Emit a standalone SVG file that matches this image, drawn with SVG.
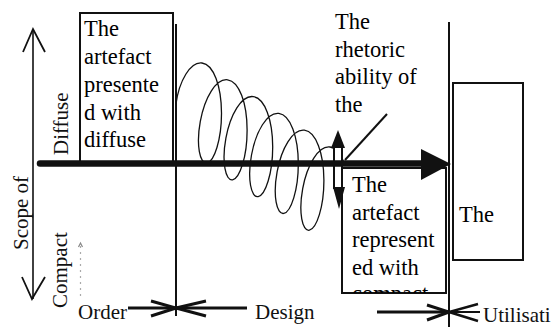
<svg xmlns="http://www.w3.org/2000/svg" width="556" height="327" viewBox="0 0 556 327">
<style>
.bt{font-family:"Liberation Serif","Times New Roman",serif;font-size:22.5px;fill:#000}
.lb{font-family:"Liberation Serif","Times New Roman",serif;font-size:21px;fill:#111}
.ln{stroke:#111;fill:none}
.box{stroke:#111;stroke-width:2;fill:#fff}
</style>
<defs>
<clipPath id="clipCompact"><rect x="343" y="169" width="102" height="124"/></clipPath>
</defs>
<rect width="556" height="327" fill="#fff"/>

<g id="scope-axis">
<line class="ln" x1="33" y1="29" x2="33" y2="299" stroke-width="1.6"/>
<polyline class="ln" points="23,52 33,29 45,52" stroke-width="1.8"/>
<polyline class="ln" points="22,277 32,299 45,277" stroke-width="1.8"/>
<text class="lb" font-size="22" transform="translate(28,250) rotate(-90)">Scope of</text>
<text class="lb" transform="translate(68,155) rotate(-90)">Diffuse</text>
<text class="lb" transform="translate(67,308) rotate(-90)">Compact</text>
<line x1="80.5" y1="246" x2="80.5" y2="296" stroke="#aaa" stroke-width="1.2" stroke-dasharray="2,4"/>
<polyline points="78.5,247 80.5,243 82.5,247" fill="none" stroke="#888" stroke-width="1.2"/>
</g>

<g id="phase-lines">
<line class="ln" x1="176" y1="24" x2="176" y2="316" stroke-width="2"/>
<line class="ln" x1="449" y1="22" x2="449" y2="327" stroke-width="2"/>
</g>

<g id="box-diffuse">
<rect class="box" x="80" y="13" width="93" height="150"/>
<text class="bt" x="84" y="36">The</text>
<text class="bt" x="84" y="64">artefact</text>
<text class="bt" x="84" y="92">presente</text>
<text class="bt" x="84" y="120">d with</text>
<text class="bt" x="84" y="147">diffuse</text>
</g>

<g id="box-compact">
<rect class="box" x="342" y="168" width="104" height="125"/>
<text class="bt" x="352" y="192">The</text>
<text class="bt" x="352" y="220">artefact</text>
<text class="bt" x="352" y="247">represent</text>
<text class="bt" x="352" y="275">ed with</text>
<text class="bt" x="352" y="300.5" clip-path="url(#clipCompact)">compact</text>
</g>

<g id="box-utilisation">
<rect class="box" x="453" y="83" width="70" height="177"/>
<text class="bt" x="459" y="222">The</text>
</g>

<g id="rhetoric-label">
<text class="bt" x="335" y="29">The</text>
<text class="bt" x="335" y="57">rhetoric</text>
<text class="bt" x="335" y="84">ability of</text>
<text class="bt" x="335" y="112">the</text>
</g>

<g id="connectors">
<path id="spiral" class="ln" stroke-width="1.3" d="M176 104 C179.08 80.88 190.41 61.53 202 63 C213.59 64.47 221.4 86.34 221.5 113 C221.6 139.66 214.11 161.53 207 163 C199.89 164.47 195.92 145.12 200.3 121.4 C204.68 97.68 216.01 78.33 227.6 79.8 C239.19 81.27 247 103.14 247.1 129.8 C247.2 156.46 239.71 178.33 232.6 179.8 C225.49 181.27 221.52 161.92 225.9 138.2 C230.28 114.48 241.61 95.13 253.2 96.6 C264.79 98.07 272.6 119.94 272.7 146.6 C272.8 173.26 265.31 195.13 258.2 196.6 C251.09 198.07 247.12 178.72 251.5 155 C255.88 131.28 267.21 111.93 278.8 113.4 C290.39 114.87 298.2 136.74 298.3 163.4 C298.4 190.06 290.91 211.93 283.8 213.4 C276.69 214.87 272.72 195.52 277.1 171.8 C281.48 148.08 292.81 128.73 304.4 130.2 C315.99 131.67 323.8 153.54 323.9 180.2 C324 206.86 316.51 228.73 309.4 230.2 C302.29 231.67 298.32 212.32 302.7 188.6 C307.08 164.88 318.41 145.53 330 147 C335.6 147.7 340.5 153.5 344 163"/>
<g id="double-arrow">
<rect x="334" y="147" width="8" height="41" fill="#fff" stroke="#111" stroke-width="2"/>
<polygon points="338,130 345,148 331,148" fill="#111"/>
<polygon points="333,187 345,187 339,209" fill="#111"/>
</g>
<line class="ln" x1="40" y1="163.5" x2="425" y2="163.5" stroke-width="6.5" stroke-linecap="round"/>
<polygon points="421,149 451,164 421,180" fill="#111"/>
<line class="ln" x1="387" y1="114" x2="345" y2="160" stroke-width="2"/>
<g id="arrow-order">
<line class="ln" x1="128" y1="308" x2="176" y2="308" stroke-width="3"/>
<polyline class="ln" points="151,301 176,308 151,316" stroke-width="3"/>
</g>
<g id="arrow-design">
<line class="ln" x1="247" y1="308" x2="176" y2="308" stroke-width="3"/>
<polyline class="ln" points="206,301 176,308 206,316" stroke-width="3"/>
</g>
<g id="arrow-util-in">
<line class="ln" x1="377" y1="312" x2="449" y2="312" stroke-width="3"/>
<polyline class="ln" points="427,305 449,312 427,320" stroke-width="3"/>
</g>
<g id="arrow-util-out">
<line class="ln" x1="480" y1="312" x2="449" y2="312" stroke-width="2"/>
<polyline class="ln" points="478,304 449,312 478,321" stroke-width="2.5"/>
</g>
</g>

<g id="phase-labels">
<text class="lb" x="78" y="319">Order</text>
<text class="lb" x="255" y="319">Design</text>
<text class="lb" x="483" y="322">Utilisati</text>
</g>
</svg>
